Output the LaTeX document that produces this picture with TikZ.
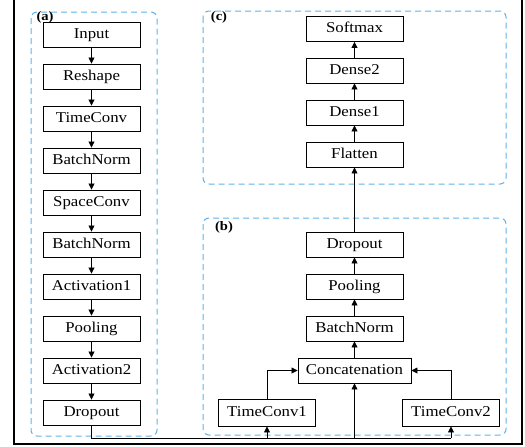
\documentclass[tikz,border=0pt]{standalone}
\usepackage{fontspec}
\setmainfont{Liberation Serif}[FakeStretch=1.12]
\usetikzlibrary{arrows.meta}
\definecolor{panelblue}{RGB}{95,180,230}

\begin{document}
\begin{tikzpicture}[x=1pt,y=-1pt,
    layer/.style={draw,line width=0.9pt,minimum width=97pt,minimum height=25pt,inner sep=0pt,
      text height=10pt,text depth=3pt,font=\fontsize{15}{17}\selectfont},
    panel/.style={draw=panelblue,dash pattern=on 6pt off 4pt,line width=1pt,rounded corners=6pt},
    tag/.style={font=\fontsize{13}{13}\selectfont\bfseries},
    flow/.style={-{Triangle[length=6pt,width=6pt]},line width=0.8pt}] % the three panels
    \useasboundingbox (0,0) rectangle (525,447);
    \draw[line width=1.2pt] (14,0) -- (14,444) -- (522,444) -- (522,0);
    % panels
    \draw[panel] (31,12) rectangle (157,436);
    \draw[panel] (203,11) rectangle (506,184);
    \draw[panel] (203,218) rectangle (506,435);
    \node[tag] (ta) at (45,17) {(a)};
    \node[tag] (tc) at (219,17) {(c)};
    \node[tag] (tb) at (224,227) {(b)};
    % (a)
    \node (input) at (91.5,34.5) [layer] {Input};
    \node (reshape) at (91.5,76.5) [layer] {Reshape};
    \node (timeconv) at (91.5,118.5) [layer] {TimeConv};
    \node (bnorma) at (91.5,160.5) [layer] {BatchNorm};
    \node (spaceconv) at (91.5,202.5) [layer] {SpaceConv};
    \node (bnormb) at (91.5,244.5) [layer] {BatchNorm};
    \node (act1) at (91.5,286.5) [layer] {Activation1};
    \node (poola) at (91.5,328.5) [layer] {Pooling};
    \node (act2) at (91.5,370.5) [layer] {Activation2};
    \node (dropa) at (91.5,412.5) [layer] {Dropout};
    \draw[flow] (input) -- (reshape);
    \draw[flow] (reshape) -- (timeconv);
    \draw[flow] (timeconv) -- (bnorma);
    \draw[flow] (bnorma) -- (spaceconv);
    \draw[flow] (spaceconv) -- (bnormb);
    \draw[flow] (bnormb) -- (act1);
    \draw[flow] (act1) -- (poola);
    \draw[flow] (poola) -- (act2);
    \draw[flow] (act2) -- (dropa);
    % (b)
    \node (tconv1) at (267,412.5) [layer,minimum height=27pt] {TimeConv1};
    \node (tconv2) at (451,412.5) [layer,minimum height=27pt] {TimeConv2};
    \node (concat) at (354.5,370.5) [layer,minimum width=113pt] {Concatenation};
    \node (bnormc) at (354.5,328.5) [layer] {BatchNorm};
    \node (poolb) at (354.5,286.5) [layer] {Pooling};
    \node (dropb) at (354.5,244.5) [layer] {Dropout};
    \coordinate (j1) at (267,438);
    \coordinate (j2) at (354.5,438);
    \coordinate (j3) at (451,438);
    \draw[line width=0.8pt] (dropa.south) |- (j3);
    \draw[flow] (j1) -- (tconv1);
    \draw[flow] (j2) -- (concat);
    \draw[flow] (j3) -- (tconv2);
    \draw[flow] (tconv1.north) |- (concat.west);
    \draw[flow] (tconv2.north) |- (concat.east);
    \draw[flow] (concat) -- (bnormc);
    \draw[flow] (bnormc) -- (poolb);
    \draw[flow] (poolb) -- (dropb);
    % (c)
    \node (flatten) at (354.5,154.5) [layer] {Flatten};
    \node (dense1) at (354.5,112.5) [layer] {Dense1};
    \node (dense2) at (354.5,70.5) [layer] {Dense2};
    \node (softmax) at (354.5,29) [layer] {Softmax};
    \draw[flow] (dropb) -- (flatten);
    \draw[flow] (flatten) -- (dense1);
    \draw[flow] (dense1) -- (dense2);
    \draw[flow] (dense2) -- (softmax);
  \end{tikzpicture}
\end{document}
